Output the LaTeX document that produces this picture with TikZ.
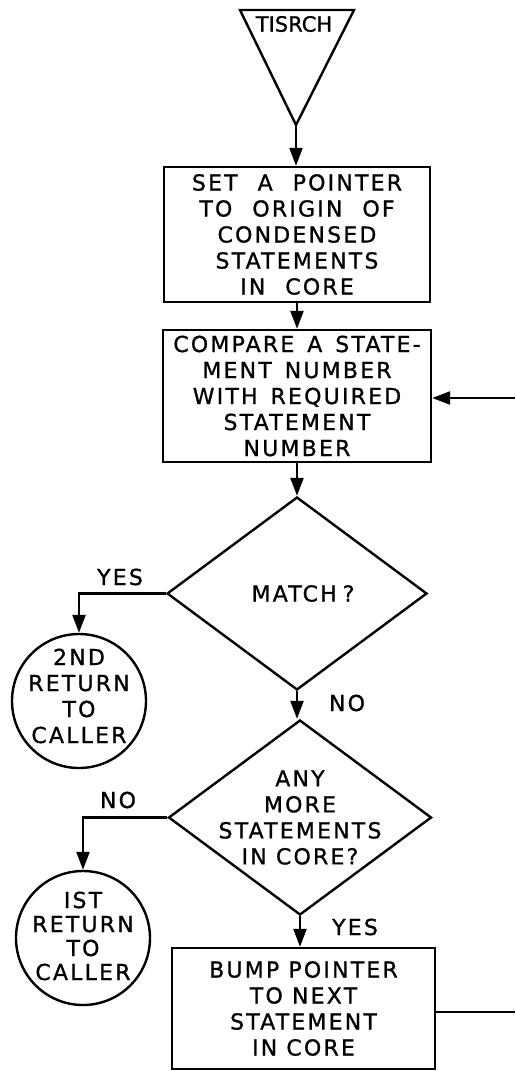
\documentclass[tikz,border=0pt]{standalone}
\usepackage{fontspec}
\setmainfont{DejaVu Sans}[LetterSpace=10, FakeBold=1]
\newfontfamily\plainfont{DejaVu Sans}[FakeBold=1]
\usetikzlibrary{shapes.geometric,arrows.meta}
\newcommand{\wsp}{\hspace{20pt}}
\newcommand{\wspb}{\hspace{13pt}}
\begin{document}
\begin{tikzpicture}[x=1pt,y=1pt]
\tikzset{
  ln/.style={line width=2.4pt},
  arr/.style={line width=2.4pt, -{Triangle[length=18pt,width=13pt]}},
  txt/.style={align=center, font=\fontsize{22}{26}\selectfont, inner sep=0pt},
  proc/.style={draw, line width=2.4pt, rectangle, inner sep=0pt, txt},
  dec/.style={draw, line width=2.4pt, diamond, inner sep=0pt},
  term/.style={draw, line width=2.4pt, circle, inner sep=0pt, minimum size=134pt},
}
\useasboundingbox (0,0) rectangle (515,-1071);

% start triangle
\coordinate (tl) at (240,-10);
\coordinate (tr) at (354,-10);
\coordinate (apex) at (296,-125);
\draw[ln, line join=miter] (tl) -- (tr) -- (apex) -- cycle;
\node[inner sep=0pt, font=\plainfont\fontsize{21}{24}\selectfont] (start) at (294,-24) {TISRCH};

% boxes
\node[proc, minimum width=266pt, minimum height=135pt] (b1) at (297,-234.5)
  {SET\wsp A\wsp POINTER\\TO\wsp ORIGIN\wsp OF\\CONDENSED\\STATEMENTS\\IN\wsp CORE};
\node[proc, minimum width=268pt, minimum height=132pt] (b2) at (297,-396)
  {COMPARE\wspb A\wspb STATE-\\MENT\wspb NUMBER\\WITH\wspb REQUIRED\\STATEMENT\\NUMBER};

% decisions
\node[dec, minimum width=260pt, minimum height=193pt,
  label={[txt, xshift=6pt]center:MATCH\hspace{6pt}?}] (d1) at (297,-593.5) {};
\node[dec, minimum width=263pt, minimum height=195pt,
  label={[txt]center:ANY\\MORE\\STATEMENTS\\IN CORE?}] (d2) at (300,-817.5) {};

% final box
\node[proc, minimum width=263pt, minimum height=121pt] (b3) at (303.5,-1008.5)
  {BUMP POINTER\\TO NEXT\\STATEMENT\\IN CORE};

% terminals
\node[term, label={[txt, yshift=5pt]center:2ND\\RETURN\\TO\\CALLER}] (c2) at (79,-701) {};
\node[term, label={[txt, font=\fontsize{22}{24}\selectfont, yshift=2pt]center:IST\\RETURN\\TO\\CALLER}] (c1) at (83,-938) {};

% branch labels
\node[txt] (yes1) at (120,-577) {YES};
\node[txt] (no1) at (347,-703) {NO};
\node[txt] (no2) at (118,-800) {NO};
\node[txt] (yes2) at (355,-927) {YES};

% loop ends
\coordinate (r3) at (515,-1012);
\coordinate (r2) at (515,-398);

% connectors
\draw[arr] (apex) -- (apex |- b1.north);
\draw[arr] (b1.south) -- (b1.south |- b2.north);
\draw[arr] (b2.south) -- (b2.south |- d1.north);
\draw[arr] (d1.west) -| (c2.north);
\draw[arr] (d1.south) -- (d1.south |- d2.north);
\draw[arr] (d2.west) -| (c1.north);
\draw[arr] (d2.south) -- (d2.south |- b3.north);
\draw[ln] (r3 -| b3.east) -- (r3);
\draw[arr] (r2) -- (r2 -| b2.east);
\end{tikzpicture}
\end{document}
